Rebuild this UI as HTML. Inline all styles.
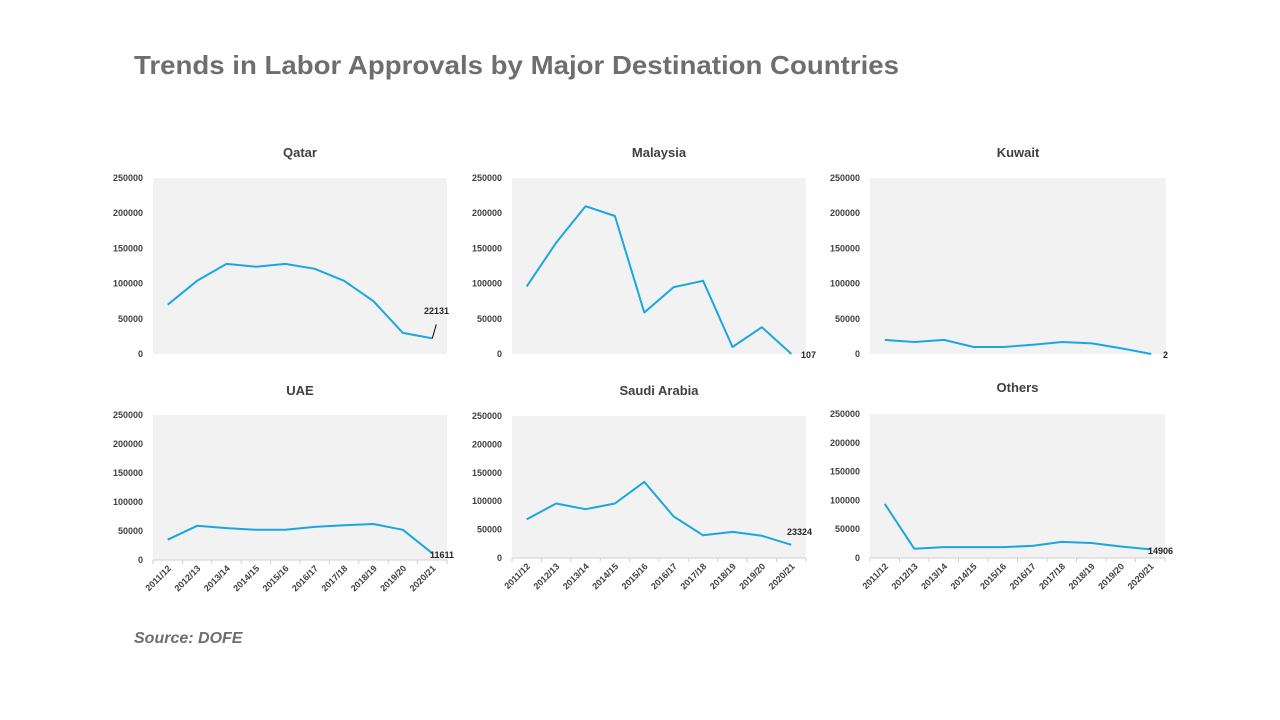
<!DOCTYPE html>
<html><head><meta charset="utf-8"><style>
html,body{margin:0;padding:0;background:#fff;}
svg{display:block;font-family:"Liberation Sans",sans-serif;}
</style></head><body>
<svg id="s" width="1280" height="720" xmlns="http://www.w3.org/2000/svg">
<text x="134" y="74" font-size="26" font-weight="bold" fill="#6e6e6e" textLength="765" lengthAdjust="spacingAndGlyphs">Trends in Labor Approvals by Major Destination Countries</text>
<text x="134" y="643" font-size="16" font-weight="bold" font-style="italic" fill="#6e6e6e">Source: DOFE</text>
</svg>
<script>
var s=document.getElementById('s'),NS='http://www.w3.org/2000/svg';
function el(t,a,txt){var e=document.createElementNS(NS,t);for(var k in a)e.setAttribute(k,a[k]);if(txt!=null)e.textContent=txt;s.appendChild(e);return e;}
var cats=['2011/12','2012/13','2013/14','2014/15','2015/16','2016/17','2017/18','2018/19','2019/20','2020/21'];
var charts=[
{t:'Qatar',x0:153,x1:447,yt:178,yb:354,ty:157,xl:false,d:[70000,104000,128000,124000,128000,121000,104000,75000,30000,22131],lab:'22131',lx:424,ly:314,leader:true},
{t:'Malaysia',x0:512,x1:806,yt:178,yb:354,ty:157,xl:false,d:[96000,158000,210000,196000,59000,95000,104000,10000,38000,107],lab:'107',lx:801,ly:358},
{t:'Kuwait',x0:870,x1:1166,yt:178,yb:354,ty:157,xl:false,d:[20000,17000,20000,10000,10000,13000,17000,15000,8000,2],lab:'2',lx:1163,ly:358},
{t:'UAE',x0:153,x1:447,yt:415,yb:560,ty:395,xl:true,d:[35000,59000,55000,52000,52000,57000,60000,62000,52000,11611],lab:'11611',lx:430,ly:558},
{t:'Saudi Arabia',x0:512,x1:806,yt:416,yb:558,ty:395,xl:true,d:[68000,96000,86000,96000,134000,73000,40000,46000,39000,23324],lab:'23324',lx:787,ly:535},
{t:'Others',x0:870,x1:1165,yt:414,yb:558,ty:392,xl:true,d:[94000,16000,19000,19000,19000,21000,28000,26000,20000,14906],lab:'14906',lx:1148,ly:554}
];
charts.forEach(function(c){
 var w=c.x1-c.x0,h=c.yb-c.yt,step=w/10;
 el('rect',{x:c.x0,y:c.yt,width:w,height:h,fill:'#f2f2f2'});
 el('text',{x:(c.x0+c.x1)/2,y:c.ty,'font-size':13,'font-weight':'bold',fill:'#404040','text-anchor':'middle'},c.t);
 for(var i=0;i<=5;i++){var v=i*50000,y=c.yb-h*v/250000;
  el('text',{x:c.x0-10,y:y+3,'font-size':9,'font-weight':'bold',fill:'#404040','text-anchor':'end'},String(v));}
 if(c.xl){
  el('line',{x1:c.x0,y1:c.yb,x2:c.x1,y2:c.yb,stroke:'#d0d0d0','stroke-width':1});
  for(var i=0;i<=10;i++){var x=c.x0+step*i;el('line',{x1:x,y1:c.yb,x2:x,y2:c.yb+4,stroke:'#d0d0d0'});}
  cats.forEach(function(t,i){var x=c.x0+step*(i+0.5)+4,y=c.yb+9;
   el('text',{x:x,y:y,'font-size':9,'font-weight':'bold',fill:'#404040','text-anchor':'end',transform:'rotate(-45 '+x+' '+y+')'},t);});
 }
 var pts=c.d.map(function(v,i){return (c.x0+step*(i+0.5)).toFixed(1)+','+(c.yb-h*v/250000).toFixed(1);}).join(' ');
 el('polyline',{points:pts,fill:'none',stroke:'#1aa7e0','stroke-width':2,'stroke-linejoin':'round'});
 if(c.leader){var lx=c.x0+step*9.5,ly=c.yb-h*c.d[9]/250000;el('line',{x1:lx,y1:ly,x2:lx+4,y2:ly-14,stroke:'#000','stroke-width':1});}
 el('text',{x:c.lx,y:c.ly,'font-size':9,'font-weight':'bold',fill:'#262626'},c.lab);
});
</script>
</body></html>
